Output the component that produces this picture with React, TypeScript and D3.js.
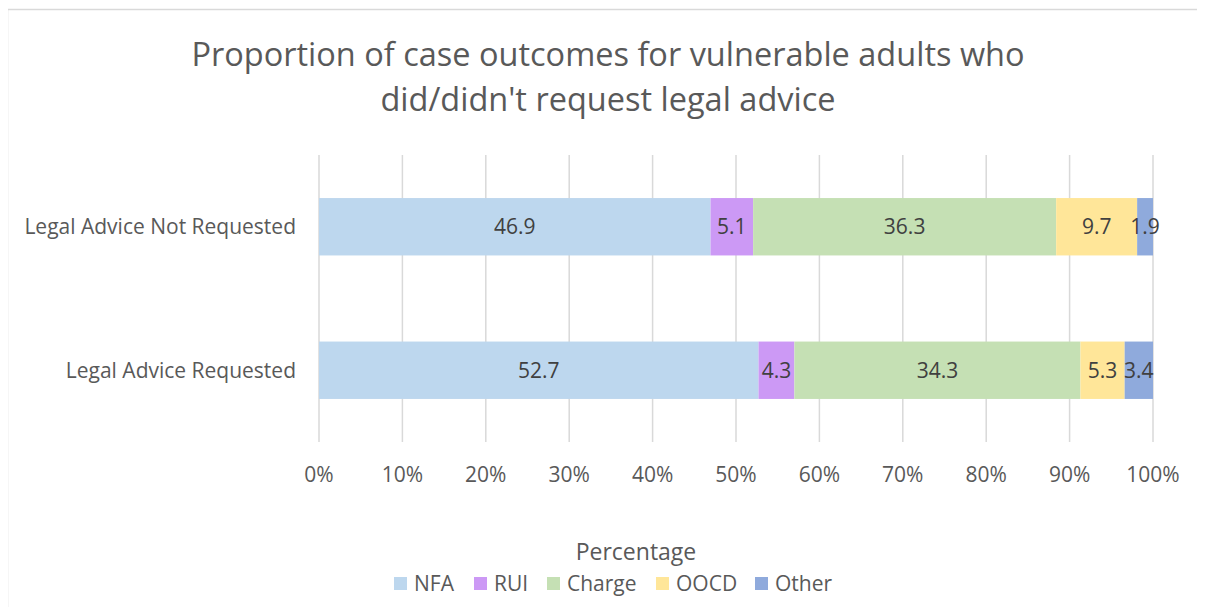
import React from "react";
import * as d3 from "d3";

const categories = ["Legal Advice Not Requested", "Legal Advice Requested"];
const seriesNames = ["NFA", "RUI", "Charge", "OOCD", "Other"];
const notRequested = [46.9, 5.1, 36.3, 9.7, 1.9];
const requested = [52.7, 4.3, 34.3, 5.3, 3.4];
const colors = ["#BDD7EE", "#CC99F5", "#C5E0B4", "#FFE699", "#8FAADC"];
const ticks = [0, 10, 20, 30, 40, 50, 60, 70, 80, 90, 100];

const W = 1205;
const H = 615;
const font = "'Open Sans', 'Noto Sans', sans-serif";

export default function App() {
  const rows = [notRequested, requested];
  const x = d3.scaleLinear().domain([0, 100]).range([319, 1153]);
  const y = d3.scaleBand().domain(categories).range([155, 442]).paddingInner(0.6).paddingOuter(0.3);

  // stack each row as percentages of its own total
  const stacked = rows.map((vals, i) => {
    const total = d3.sum(vals);
    let acc = 0;
    return vals.map((v, j) => {
      const x0 = (acc / total) * 100;
      acc += v;
      const x1 = (acc / total) * 100;
      return { cat: categories[i], v, x0, x1, color: colors[j] };
    });
  });

  const legendX = [394, 474, 547, 656, 755];

  return (
    <div style={{ margin: -8 }}>
      <svg width={W} height={H} style={{ display: "block" }}>
        <rect x={7.5} y={9.5} width={1215} height={620} fill="#fff" stroke="#D9D9D9" strokeWidth={1.5} />
        <text x={608} y={66} textAnchor="middle" fontFamily={font} fontSize={32.5} fill="#595959">
          Proportion of case outcomes for vulnerable adults who
        </text>
        <text x={608} y={111} textAnchor="middle" fontFamily={font} fontSize={32.5} fill="#595959">
          did/didn't request legal advice
        </text>
        {ticks.map((t) => (
          <g key={t}>
            <line x1={x(t)} x2={x(t)} y1={155} y2={442} stroke="#D9D9D9" strokeWidth={1.5} />
            <text x={x(t)} y={482} textAnchor="middle" fontFamily={font} fontSize={21} fill="#595959">
              {t}%
            </text>
          </g>
        ))}
        {categories.map((c) => (
          <text key={c} x={296} y={(y(c) ?? 0) + y.bandwidth() / 2 + 7.5} textAnchor="end" fontFamily={font} fontSize={21} fill="#595959">
            {c}
          </text>
        ))}
        {stacked.map((segs, i) => (
          <g key={i}>
            {segs.map((s, j) => (
              <rect key={j} x={x(s.x0)} y={y(s.cat)} width={x(s.x1) - x(s.x0)} height={y.bandwidth()} fill={s.color} />
            ))}
            {segs.map((s, j) => (
              <text
                key={"t" + j}
                x={(x(s.x0) + x(s.x1)) / 2}
                y={(y(s.cat) ?? 0) + y.bandwidth() / 2 + 7.5}
                textAnchor="middle"
                fontFamily={font}
                fontSize={21}
                fill="#404040"
              >
                {s.v}
              </text>
            ))}
          </g>
        ))}
        <text x={636} y={560} textAnchor="middle" fontFamily={font} fontSize={23} fill="#595959">
          Percentage
        </text>
        {seriesNames.map((n, i) => (
          <g key={n}>
            <rect x={legendX[i]} y={577} width={13} height={13} fill={colors[i]} />
            <text x={legendX[i] + 20} y={591} fontFamily={font} fontSize={21} fill="#595959">
              {n}
            </text>
          </g>
        ))}
      </svg>
    </div>
  );
}
